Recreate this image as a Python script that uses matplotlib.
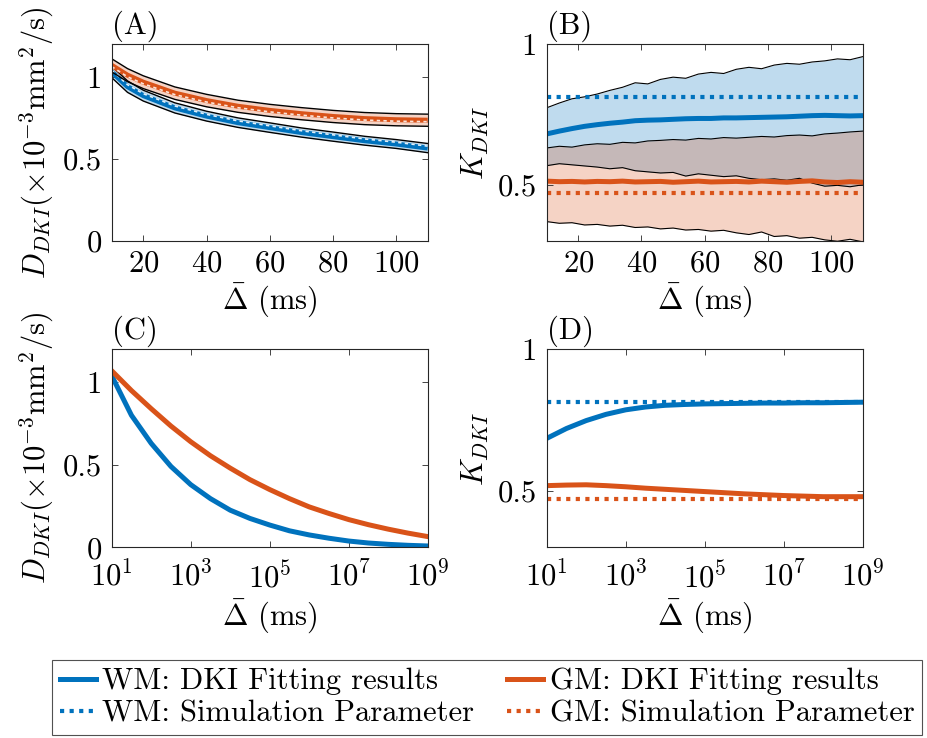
import numpy as np
import matplotlib
matplotlib.use("Agg")
import matplotlib.pyplot as plt
from matplotlib.lines import Line2D

plt.rcParams['font.family'] = ['cmr10', 'DejaVu Serif']
plt.rcParams['mathtext.fontset'] = 'cm'
plt.rcParams['axes.formatter.use_mathtext'] = True
plt.rcParams['axes.unicode_minus'] = False
plt.rcParams['font.size'] = 22

BLUE = '#0072BD'
ORANGE = '#D95319'
AXC = '#262626'

# ---- (A) diffusivity vs. diffusion time (linear) ----
delta_a = [10, 15, 20, 30, 40, 50, 60, 70, 80, 90, 100, 110]
wm_d_mean = [1.03, 0.94, 0.885, 0.81, 0.76, 0.72, 0.69, 0.66, 0.635, 0.61, 0.59, 0.565]
wm_d_lo = [0.995, 0.905, 0.852, 0.779, 0.730, 0.691, 0.661, 0.632, 0.607, 0.583, 0.563, 0.537]
wm_d_hi = [1.065, 0.975, 0.918, 0.841, 0.790, 0.749, 0.719, 0.688, 0.663, 0.637, 0.617, 0.593]
wm_d_sim = [1.04, 0.952, 0.897, 0.822, 0.771, 0.731, 0.701, 0.671, 0.646, 0.621, 0.601, 0.577]
gm_d_mean = [1.07, 1.01, 0.967, 0.90, 0.855, 0.82, 0.795, 0.775, 0.758, 0.745, 0.738, 0.735]
gm_d_lo = [1.03, 0.970, 0.928, 0.862, 0.817, 0.783, 0.758, 0.738, 0.721, 0.708, 0.701, 0.698]
gm_d_hi = [1.11, 1.050, 1.006, 0.938, 0.893, 0.857, 0.832, 0.812, 0.795, 0.782, 0.775, 0.772]
gm_d_sim = [1.062, 1.0, 0.957, 0.891, 0.846, 0.811, 0.786, 0.766, 0.749, 0.736, 0.729, 0.726]

# ---- (B) kurtosis vs. diffusion time (linear) ----
delta_b = [10, 14, 18, 22, 26, 30, 34, 38, 42, 46, 50, 54, 58, 62, 66, 70,
           74, 78, 82, 86, 90, 94, 98, 102, 106, 110]
wm_k_mean = [0.680, 0.690, 0.699, 0.707, 0.713, 0.718, 0.722, 0.727, 0.729, 0.730,
             0.732, 0.734, 0.735, 0.735, 0.737, 0.737, 0.738, 0.739, 0.740, 0.741,
             0.743, 0.745, 0.746, 0.745, 0.744, 0.745]
wm_k_hi = [0.773, 0.790, 0.805, 0.812, 0.822, 0.835, 0.846, 0.862, 0.858, 0.874,
           0.882, 0.878, 0.893, 0.899, 0.895, 0.910, 0.917, 0.912, 0.925, 0.931,
           0.928, 0.936, 0.940, 0.947, 0.944, 0.955]
wm_k_lo = [0.567, 0.574, 0.570, 0.566, 0.562, 0.556, 0.560, 0.549, 0.545, 0.541,
           0.543, 0.530, 0.538, 0.533, 0.528, 0.531, 0.522, 0.517, 0.520, 0.515,
           0.522, 0.505, 0.494, 0.497, 0.492, 0.499]
gm_k_mean = [0.512, 0.510, 0.511, 0.509, 0.511, 0.510, 0.512, 0.509, 0.510, 0.511,
             0.508, 0.510, 0.512, 0.509, 0.510, 0.511, 0.509, 0.512, 0.510, 0.508,
             0.511, 0.513, 0.509, 0.507, 0.510, 0.508]
gm_k_hi = [0.630, 0.636, 0.633, 0.641, 0.645, 0.643, 0.650, 0.648, 0.655, 0.657,
           0.660, 0.658, 0.664, 0.662, 0.667, 0.665, 0.668, 0.671, 0.669, 0.674,
           0.676, 0.673, 0.680, 0.683, 0.687, 0.690]
gm_k_lo = [0.368, 0.362, 0.364, 0.356, 0.358, 0.352, 0.355, 0.347, 0.349, 0.342,
           0.345, 0.338, 0.340, 0.334, 0.337, 0.328, 0.322, 0.331, 0.315, 0.318,
           0.309, 0.312, 0.303, 0.298, 0.305, 0.296]
wm_k_sim = 0.813
gm_k_sim = 0.469

# ---- (C), (D) long-time behaviour (log axis) ----
delta_log = [1e1, 10**1.5, 1e2, 10**2.5, 1e3, 10**3.5, 1e4, 10**4.5, 1e5,
             10**5.5, 1e6, 10**6.5, 1e7, 10**7.5, 1e8, 10**8.5, 1e9]
wm_d_long = [1.04, 0.80, 0.63, 0.49, 0.38, 0.295, 0.225, 0.175, 0.135,
             0.10, 0.075, 0.055, 0.038, 0.026, 0.018, 0.012, 0.008]
gm_d_long = [1.07, 0.95, 0.84, 0.735, 0.64, 0.555, 0.48, 0.41, 0.35,
             0.295, 0.245, 0.205, 0.168, 0.137, 0.11, 0.086, 0.065]
wm_k_long = [0.685, 0.72, 0.748, 0.77, 0.786, 0.796, 0.802, 0.805, 0.807,
             0.808, 0.809, 0.810, 0.810, 0.811, 0.811, 0.812, 0.813]
gm_k_long = [0.518, 0.520, 0.521, 0.518, 0.514, 0.509, 0.505, 0.501, 0.497,
             0.493, 0.489, 0.486, 0.483, 0.481, 0.479, 0.479, 0.479]

legend_labels = ['WM: DKI Fitting results', 'WM: Simulation Parameter',
                 'GM: DKI Fitting results', 'GM: Simulation Parameter']

D_LABEL = r'$D_{DKI}(\times10^{-3}\mathrm{mm}^2/\mathrm{s})$'
K_LABEL = r'$K_{DKI}$'
X_LABEL = r'$\bar{\Delta}$ (ms)'

MEAN_LW = 3.6
DOT_LW = 3.0
DOTS = (0, (1.0, 1.3))

fig = plt.figure(figsize=(9.28, 7.38), dpi=100)
W, H = 928, 738


def add_ax(x0, y0, x1, y1):
    return fig.add_axes([x0 / W, 1 - y1 / H, (x1 - x0) / W, (y1 - y0) / H])


axA = add_ax(111.7, 44, 427.7, 240.7)
axB = add_ax(546.7, 44, 862.7, 240.7)
axC = add_ax(111.7, 349.3, 427.7, 547.3)
axD = add_ax(546.7, 349.3, 862.7, 547.3)


def style(ax, tag, xpad=7):
    for s in ax.spines.values():
        s.set_color(AXC)
        s.set_linewidth(0.8)
    ax.tick_params(which='both', direction='in', top=True, right=True,
                   colors=AXC, labelcolor='black', width=0.6)
    ax.tick_params(which='major', length=4, pad=7)
    ax.tick_params(axis='x', which='major', pad=xpad)
    ax.tick_params(which='minor', length=2.2)
    ax.text(0.0, 1.01, tag, transform=ax.transAxes, ha='left', va='bottom')
    ax.set_xlabel(X_LABEL, labelpad=3)


# (A)
for lo, hi, mean, sim, col, simcol in [
        (wm_d_lo, wm_d_hi, wm_d_mean, wm_d_sim, BLUE, '#E4F0F8'),
        (gm_d_lo, gm_d_hi, gm_d_mean, gm_d_sim, ORANGE, '#FBE4DA')]:
    axA.fill_between(delta_a, lo, hi, color=col, alpha=0.25, lw=0)
    axA.plot(delta_a, mean, color=col, lw=MEAN_LW, solid_capstyle='butt')
    axA.plot(delta_a, sim, color=simcol, lw=1.2, ls=(0, (2, 2)))
    axA.plot(delta_a, lo, color='black', lw=1.0)
    axA.plot(delta_a, hi, color='black', lw=1.0)
axA.set_xlim(10, 110)
axA.set_ylim(0, 1.2)
axA.set_xticks([20, 40, 60, 80, 100])
axA.set_yticks([0, 0.5, 1])
axA.set_yticklabels(['0', '0.5', '1'])
axA.set_ylabel(D_LABEL, labelpad=5)
style(axA, '(A)')

# (B)
axB.fill_between(delta_b, wm_k_lo, wm_k_hi, color=BLUE, alpha=0.25, lw=0)
axB.fill_between(delta_b, gm_k_lo, gm_k_hi, color=ORANGE, alpha=0.25, lw=0)
for arr in (wm_k_lo, wm_k_hi, gm_k_lo, gm_k_hi):
    axB.plot(delta_b, arr, color='black', lw=0.8)
axB.axhline(wm_k_sim, color=BLUE, lw=DOT_LW, ls=DOTS)
axB.axhline(gm_k_sim, color=ORANGE, lw=DOT_LW, ls=DOTS)
axB.plot(delta_b, wm_k_mean, color=BLUE, lw=MEAN_LW)
axB.plot(delta_b, gm_k_mean, color=ORANGE, lw=MEAN_LW)
axB.set_xlim(10, 110)
axB.set_ylim(0.3, 1.0)
axB.set_xticks([20, 40, 60, 80, 100])
axB.set_yticks([0.5, 1])
axB.set_yticklabels(['0.5', '1'])
axB.set_ylabel(K_LABEL, labelpad=5)
style(axB, '(B)')

# (C)
axC.plot(delta_log, wm_d_long, color=BLUE, lw=MEAN_LW)
axC.plot(delta_log, gm_d_long, color=ORANGE, lw=MEAN_LW)
axC.set_xscale('log')
axC.set_xlim(1e1, 1e9)
axC.set_ylim(0, 1.2)
axC.set_xticks([1e1, 1e3, 1e5, 1e7, 1e9])
axC.set_yticks([0, 0.5, 1])
axC.set_yticklabels(['0', '0.5', '1'])
axC.set_ylabel(D_LABEL, labelpad=5)
style(axC, '(C)', xpad=10)

# (D)
axD.axhline(wm_k_sim, color=BLUE, lw=DOT_LW, ls=DOTS)
axD.axhline(gm_k_sim, color=ORANGE, lw=DOT_LW, ls=DOTS)
axD.plot(delta_log, wm_k_long, color=BLUE, lw=MEAN_LW)
axD.plot(delta_log, gm_k_long, color=ORANGE, lw=MEAN_LW)
axD.set_xscale('log')
axD.set_xlim(1e1, 1e9)
axD.set_ylim(0.3, 1.0)
axD.set_xticks([1e1, 1e3, 1e5, 1e7, 1e9])
axD.set_yticks([0.5, 1])
axD.set_yticklabels(['0.5', '1'])
axD.set_ylabel(K_LABEL, labelpad=5)
style(axD, '(D)', xpad=10)

handles = [
    Line2D([], [], color=BLUE, lw=MEAN_LW),
    Line2D([], [], color=BLUE, lw=DOT_LW, ls=DOTS),
    Line2D([], [], color=ORANGE, lw=MEAN_LW),
    Line2D([], [], color=ORANGE, lw=DOT_LW, ls=DOTS),
]
leg = fig.legend(handles, legend_labels, ncol=2, loc='lower left',
                 bbox_to_anchor=(52 / W, 3 / H, (922 - 52) / W, 77 / H),
                 mode='expand', borderaxespad=0, frameon=True, fancybox=False,
                 handlelength=1.2, handletextpad=0.2, labelspacing=0.15,
                 borderpad=0.25, fontsize=22)
leg.get_frame().set_edgecolor(AXC)
leg.get_frame().set_linewidth(0.8)

fig.savefig('out.png', dpi=100)
